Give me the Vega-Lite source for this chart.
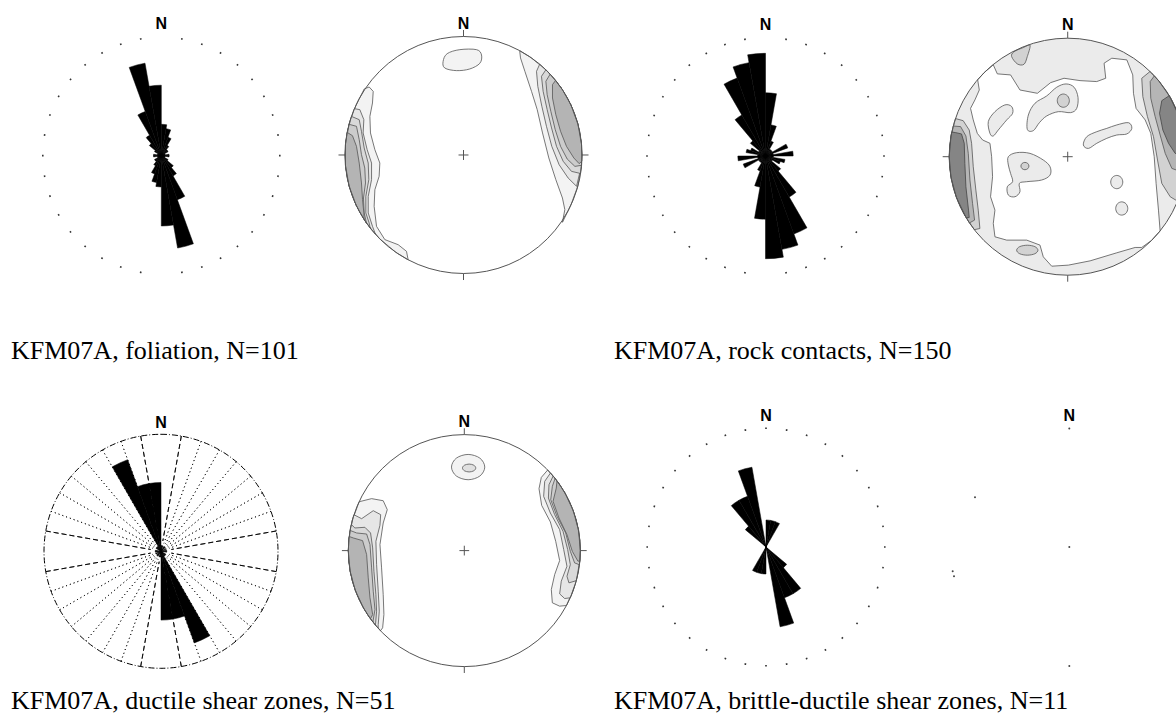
{
"$schema":"https://vega.github.io/schema/vega-lite/v6.json",
"background":"white",
"padding":{"left":10,"top":10,"right":0,"bottom":0},
"config":{"view":{"stroke":null},"concat":{"spacing":0}},
"datasets":{
"ring":[{"az":0},{"az":10},{"az":20},{"az":30},{"az":40},{"az":50},{"az":60},{"az":70},{"az":80},{"az":90},{"az":100},{"az":110},{"az":120},{"az":130},{"az":140},{"az":150},{"az":160},{"az":170},{"az":180},{"az":190},{"az":200},{"az":210},{"az":220},{"az":230},{"az":240},{"az":250},{"az":260},{"az":270},{"az":280},{"az":290},{"az":300},{"az":310},{"az":320},{"az":330},{"az":340},{"az":350}],
"one":[{"label":"N"}],
"rose1":[{"az":0,"az2":10,"n":8},{"az":10,"az2":20,"n":7},{"az":20,"az2":30,"n":5},{"az":30,"az2":40,"n":3},{"az":40,"az2":50,"n":2},{"az":50,"az2":60,"n":2},{"az":60,"az2":70,"n":1},{"az":70,"az2":80,"n":1},{"az":80,"az2":90,"n":2},{"az":90,"az2":100,"n":2},{"az":100,"az2":110,"n":1},{"az":110,"az2":120,"n":1},{"az":120,"az2":130,"n":2},{"az":130,"az2":140,"n":4},{"az":140,"az2":150,"n":6},{"az":150,"az2":160,"n":12},{"az":160,"az2":170,"n":24},{"az":170,"az2":180,"n":18}],
"rose2":[{"az":0,"az2":10,"n":16},{"az":10,"az2":20,"n":8},{"az":20,"az2":30,"n":4},{"az":30,"az2":40,"n":2},{"az":40,"az2":50,"n":2},{"az":50,"az2":60,"n":2},{"az":60,"az2":70,"n":6},{"az":70,"az2":80,"n":2},{"az":80,"az2":90,"n":7},{"az":90,"az2":100,"n":2},{"az":100,"az2":110,"n":5},{"az":110,"az2":120,"n":4},{"az":120,"az2":130,"n":2},{"az":130,"az2":140,"n":5},{"az":140,"az2":150,"n":12},{"az":150,"az2":160,"n":21},{"az":160,"az2":170,"n":24},{"az":170,"az2":180,"n":26}],
"rose3":[{"az":0,"az2":10,"n":1},{"az":10,"az2":20,"n":1},{"az":20,"az2":30,"n":0},{"az":30,"az2":40,"n":1},{"az":40,"az2":50,"n":1},{"az":50,"az2":60,"n":0},{"az":60,"az2":70,"n":1},{"az":70,"az2":80,"n":0},{"az":80,"az2":90,"n":1},{"az":90,"az2":100,"n":1},{"az":100,"az2":110,"n":0},{"az":110,"az2":120,"n":0},{"az":120,"az2":130,"n":1},{"az":130,"az2":140,"n":1},{"az":140,"az2":150,"n":1},{"az":150,"az2":160,"n":17},{"az":160,"az2":170,"n":12},{"az":170,"az2":180,"n":12}],
"rose4":[{"az":0,"az2":10,"n":1},{"az":10,"az2":20,"n":1},{"az":20,"az2":30,"n":1},{"az":30,"az2":40,"n":0},{"az":40,"az2":50,"n":0},{"az":50,"az2":60,"n":0},{"az":60,"az2":70,"n":0},{"az":70,"az2":80,"n":0},{"az":80,"az2":90,"n":0},{"az":90,"az2":100,"n":0},{"az":100,"az2":110,"n":0},{"az":110,"az2":120,"n":0},{"az":120,"az2":130,"n":0},{"az":130,"az2":140,"n":1},{"az":140,"az2":150,"n":2},{"az":150,"az2":160,"n":2},{"az":160,"az2":170,"n":3},{"az":170,"az2":180,"n":0}],
"ticks":[{"x":-0.042,"y":0,"x2":0.042,"y2":0},{"x":0,"y":-0.042,"x2":0,"y2":0.042},{"x":0,"y":1,"x2":0,"y2":1.055},{"x":0,"y":-1,"x2":0,"y2":-1.055},{"x":1,"y":0,"x2":1.055,"y2":0},{"x":-1,"y":0,"x2":-1.055,"y2":0}],
"s4":[{"x":-0.796,"y":0.419},{"x":-0.984,"y":-0.205},{"x":-0.973,"y":-0.247}],
"s4net":[{"x":0,"y":1.0},{"x":0,"y":0},{"x":0,"y":-1.005}],
"s1":[
{"id":"n1","k":"b","l":1,"x":-0.172,"y":0.790},{"id":"n1","k":"b","l":1,"x":-0.138,"y":0.855},{"id":"n1","k":"b","l":1,"x":-0.031,"y":0.889},{"id":"n1","k":"b","l":1,"x":0.110,"y":0.889},{"id":"n1","k":"b","l":1,"x":0.152,"y":0.844},{"id":"n1","k":"b","l":1,"x":0.138,"y":0.774},{"id":"n1","k":"b","l":1,"x":0.053,"y":0.726},{"id":"n1","k":"b","l":1,"x":-0.059,"y":0.712},{"id":"n1","k":"b","l":1,"x":-0.158,"y":0.734},
{"id":"w1","k":"e","l":1,"x":-0.838,"y":0.557},{"id":"w1","k":"e","l":1,"x":-0.796,"y":0.574},{"id":"w1","k":"e","l":1,"x":-0.762,"y":0.537},{"id":"w1","k":"e","l":1,"x":-0.768,"y":0.439},{"id":"w1","k":"e","l":1,"x":-0.790,"y":0.326},{"id":"w1","k":"e","l":1,"x":-0.785,"y":0.186},{"id":"w1","k":"e","l":1,"x":-0.748,"y":0.045},{"id":"w1","k":"e","l":1,"x":-0.706,"y":-0.068},{"id":"w1","k":"e","l":1,"x":-0.712,"y":-0.180},{"id":"w1","k":"e","l":1,"x":-0.748,"y":-0.293},{"id":"w1","k":"e","l":1,"x":-0.754,"y":-0.433},{"id":"w1","k":"e","l":1,"x":-0.734,"y":-0.602},{"id":"w1","k":"e","l":1,"x":-0.664,"y":-0.714},{"id":"w1","k":"e","l":1,"x":-0.551,"y":-0.757},{"id":"w1","k":"e","l":1,"x":-0.481,"y":-0.813},{"id":"w1","k":"e","l":1,"x":-0.467,"y":-0.885},{"id":"w1","k":"e","l":1,"x":-0.574,"y":-0.819},{"id":"w1","k":"e","l":1,"x":-0.707,"y":-0.707},{"id":"w1","k":"e","l":1,"x":-0.819,"y":-0.574},{"id":"w1","k":"e","l":1,"x":-0.906,"y":-0.423},{"id":"w1","k":"e","l":1,"x":-0.966,"y":-0.259},{"id":"w1","k":"e","l":1,"x":-0.996,"y":-0.087},{"id":"w1","k":"e","l":1,"x":-0.996,"y":0.087},{"id":"w1","k":"e","l":1,"x":-0.966,"y":0.259},{"id":"w1","k":"e","l":1,"x":-0.906,"y":0.423},
{"id":"w2","k":"e","l":2,"x":-0.921,"y":0.391},{"id":"w2","k":"e","l":2,"x":-0.875,"y":0.383},{"id":"w2","k":"e","l":2,"x":-0.841,"y":0.298},{"id":"w2","k":"e","l":2,"x":-0.847,"y":0.186},{"id":"w2","k":"e","l":2,"x":-0.813,"y":0.045},{"id":"w2","k":"e","l":2,"x":-0.776,"y":-0.068},{"id":"w2","k":"e","l":2,"x":-0.776,"y":-0.208},{"id":"w2","k":"e","l":2,"x":-0.804,"y":-0.349},{"id":"w2","k":"e","l":2,"x":-0.804,"y":-0.489},{"id":"w2","k":"e","l":2,"x":-0.768,"y":-0.602},{"id":"w2","k":"e","l":2,"x":-0.743,"y":-0.669},{"id":"w2","k":"e","l":2,"x":-0.819,"y":-0.574},{"id":"w2","k":"e","l":2,"x":-0.906,"y":-0.423},{"id":"w2","k":"e","l":2,"x":-0.966,"y":-0.259},{"id":"w2","k":"e","l":2,"x":-0.996,"y":-0.087},{"id":"w2","k":"e","l":2,"x":-0.996,"y":0.087},{"id":"w2","k":"e","l":2,"x":-0.966,"y":0.259},
{"id":"w3","k":"e","l":3,"x":-0.946,"y":0.326},{"id":"w3","k":"e","l":3,"x":-0.880,"y":0.298},{"id":"w3","k":"e","l":3,"x":-0.861,"y":0.200},{"id":"w3","k":"e","l":3,"x":-0.838,"y":0.059},{"id":"w3","k":"e","l":3,"x":-0.804,"y":-0.068},{"id":"w3","k":"e","l":3,"x":-0.799,"y":-0.208},{"id":"w3","k":"e","l":3,"x":-0.824,"y":-0.349},{"id":"w3","k":"e","l":3,"x":-0.824,"y":-0.489},{"id":"w3","k":"e","l":3,"x":-0.796,"y":-0.574},{"id":"w3","k":"e","l":3,"x":-0.788,"y":-0.616},{"id":"w3","k":"e","l":3,"x":-0.866,"y":-0.500},{"id":"w3","k":"e","l":3,"x":-0.940,"y":-0.342},{"id":"w3","k":"e","l":3,"x":-0.985,"y":-0.174},{"id":"w3","k":"e","l":3,"x":-1,"y":0},{"id":"w3","k":"e","l":3,"x":-0.985,"y":0.174},
{"id":"w4","k":"e","l":4,"x":-0.966,"y":0.259},{"id":"w4","k":"e","l":4,"x":-0.903,"y":0.242},{"id":"w4","k":"e","l":4,"x":-0.880,"y":0.129},{"id":"w4","k":"e","l":4,"x":-0.861,"y":0.003},{"id":"w4","k":"e","l":4,"x":-0.833,"y":-0.110},{"id":"w4","k":"e","l":4,"x":-0.827,"y":-0.236},{"id":"w4","k":"e","l":4,"x":-0.844,"y":-0.363},{"id":"w4","k":"e","l":4,"x":-0.838,"y":-0.489},{"id":"w4","k":"e","l":4,"x":-0.819,"y":-0.574},{"id":"w4","k":"e","l":4,"x":-0.906,"y":-0.423},{"id":"w4","k":"e","l":4,"x":-0.966,"y":-0.259},{"id":"w4","k":"e","l":4,"x":-0.996,"y":-0.087},{"id":"w4","k":"e","l":4,"x":-0.996,"y":0.087},
{"id":"w5","k":"e","l":5,"x":-0.982,"y":0.191},{"id":"w5","k":"e","l":5,"x":-0.937,"y":0.163},{"id":"w5","k":"e","l":5,"x":-0.903,"y":0.073},{"id":"w5","k":"e","l":5,"x":-0.880,"y":-0.068},{"id":"w5","k":"e","l":5,"x":-0.861,"y":-0.236},{"id":"w5","k":"e","l":5,"x":-0.852,"y":-0.377},{"id":"w5","k":"e","l":5,"x":-0.841,"y":-0.489},{"id":"w5","k":"e","l":5,"x":-0.839,"y":-0.545},{"id":"w5","k":"e","l":5,"x":-0.906,"y":-0.423},{"id":"w5","k":"e","l":5,"x":-0.966,"y":-0.259},{"id":"w5","k":"e","l":5,"x":-0.996,"y":-0.087},{"id":"w5","k":"e","l":5,"x":-0.996,"y":0.087},
{"id":"e1","k":"e","l":1,"x":0.474,"y":0.880},{"id":"e1","k":"e","l":1,"x":0.481,"y":0.819},{"id":"e1","k":"e","l":1,"x":0.518,"y":0.706},{"id":"e1","k":"e","l":1,"x":0.574,"y":0.537},{"id":"e1","k":"e","l":1,"x":0.622,"y":0.383},{"id":"e1","k":"e","l":1,"x":0.667,"y":0.186},{"id":"e1","k":"e","l":1,"x":0.720,"y":-0.025},{"id":"e1","k":"e","l":1,"x":0.779,"y":-0.208},{"id":"e1","k":"e","l":1,"x":0.835,"y":-0.363},{"id":"e1","k":"e","l":1,"x":0.855,"y":-0.461},{"id":"e1","k":"e","l":1,"x":0.835,"y":-0.568},{"id":"e1","k":"e","l":1,"x":0.906,"y":-0.423},{"id":"e1","k":"e","l":1,"x":0.966,"y":-0.259},{"id":"e1","k":"e","l":1,"x":0.996,"y":-0.087},{"id":"e1","k":"e","l":1,"x":0.996,"y":0.087},{"id":"e1","k":"e","l":1,"x":0.966,"y":0.259},{"id":"e1","k":"e","l":1,"x":0.906,"y":0.423},{"id":"e1","k":"e","l":1,"x":0.819,"y":0.574},{"id":"e1","k":"e","l":1,"x":0.707,"y":0.707},{"id":"e1","k":"e","l":1,"x":0.574,"y":0.819},
{"id":"e2","k":"e","l":2,"x":0.643,"y":0.766},{"id":"e2","k":"e","l":2,"x":0.616,"y":0.706},{"id":"e2","k":"e","l":2,"x":0.627,"y":0.579},{"id":"e2","k":"e","l":2,"x":0.661,"y":0.411},{"id":"e2","k":"e","l":2,"x":0.700,"y":0.242},{"id":"e2","k":"e","l":2,"x":0.745,"y":0.073},{"id":"e2","k":"e","l":2,"x":0.807,"y":-0.082},{"id":"e2","k":"e","l":2,"x":0.883,"y":-0.194},{"id":"e2","k":"e","l":2,"x":0.954,"y":-0.264},{"id":"e2","k":"e","l":2,"x":0.996,"y":-0.087},{"id":"e2","k":"e","l":2,"x":0.996,"y":0.087},{"id":"e2","k":"e","l":2,"x":0.966,"y":0.259},{"id":"e2","k":"e","l":2,"x":0.906,"y":0.423},{"id":"e2","k":"e","l":2,"x":0.819,"y":0.574},{"id":"e2","k":"e","l":2,"x":0.707,"y":0.707},
{"id":"e3","k":"e","l":3,"x":0.695,"y":0.719},{"id":"e3","k":"e","l":3,"x":0.658,"y":0.664},{"id":"e3","k":"e","l":3,"x":0.672,"y":0.537},{"id":"e3","k":"e","l":3,"x":0.706,"y":0.383},{"id":"e3","k":"e","l":3,"x":0.743,"y":0.228},{"id":"e3","k":"e","l":3,"x":0.785,"y":0.073},{"id":"e3","k":"e","l":3,"x":0.841,"y":-0.053},{"id":"e3","k":"e","l":3,"x":0.911,"y":-0.138},{"id":"e3","k":"e","l":3,"x":0.988,"y":-0.156},{"id":"e3","k":"e","l":3,"x":1,"y":0},{"id":"e3","k":"e","l":3,"x":0.985,"y":0.174},{"id":"e3","k":"e","l":3,"x":0.940,"y":0.342},{"id":"e3","k":"e","l":3,"x":0.866,"y":0.500},{"id":"e3","k":"e","l":3,"x":0.766,"y":0.643},
{"id":"e4","k":"e","l":4,"x":0.731,"y":0.682},{"id":"e4","k":"e","l":4,"x":0.695,"y":0.622},{"id":"e4","k":"e","l":4,"x":0.706,"y":0.509},{"id":"e4","k":"e","l":4,"x":0.737,"y":0.368},{"id":"e4","k":"e","l":4,"x":0.774,"y":0.214},{"id":"e4","k":"e","l":4,"x":0.819,"y":0.073},{"id":"e4","k":"e","l":4,"x":0.875,"y":-0.034},{"id":"e4","k":"e","l":4,"x":0.940,"y":-0.096},{"id":"e4","k":"e","l":4,"x":0.996,"y":-0.087},{"id":"e4","k":"e","l":4,"x":0.996,"y":0.087},{"id":"e4","k":"e","l":4,"x":0.966,"y":0.259},{"id":"e4","k":"e","l":4,"x":0.906,"y":0.423},{"id":"e4","k":"e","l":4,"x":0.819,"y":0.574},
{"id":"e5","k":"e","l":5,"x":0.777,"y":0.629},{"id":"e5","k":"e","l":5,"x":0.751,"y":0.594},{"id":"e5","k":"e","l":5,"x":0.751,"y":0.481},{"id":"e5","k":"e","l":5,"x":0.779,"y":0.340},{"id":"e5","k":"e","l":5,"x":0.819,"y":0.200},{"id":"e5","k":"e","l":5,"x":0.869,"y":0.073},{"id":"e5","k":"e","l":5,"x":0.931,"y":-0.025},{"id":"e5","k":"e","l":5,"x":0.976,"y":-0.073},{"id":"e5","k":"e","l":5,"x":0.999,"y":-0.052},{"id":"e5","k":"e","l":5,"x":0.996,"y":0.087},{"id":"e5","k":"e","l":5,"x":0.966,"y":0.259},{"id":"e5","k":"e","l":5,"x":0.906,"y":0.423},{"id":"e5","k":"e","l":5,"x":0.839,"y":0.545}
],
"s3":[
{"id":"n1","k":"b","l":1,"x":0.1765,"y":0.720},{"id":"n1","k":"b","l":1,"x":0.1345,"y":0.797},{"id":"n1","k":"b","l":1,"x":0.033,"y":0.829},{"id":"n1","k":"b","l":1,"x":-0.0685,"y":0.797},{"id":"n1","k":"b","l":1,"x":-0.1105,"y":0.720},{"id":"n1","k":"b","l":1,"x":-0.0685,"y":0.643},{"id":"n1","k":"b","l":1,"x":0.033,"y":0.611},{"id":"n1","k":"b","l":1,"x":0.1345,"y":0.643},
{"id":"n2","k":"b","l":2,"x":0.099,"y":0.712},{"id":"n2","k":"b","l":2,"x":0.0822,"y":0.736},{"id":"n2","k":"b","l":2,"x":0.0416,"y":0.746},{"id":"n2","k":"b","l":2,"x":0.001,"y":0.736},{"id":"n2","k":"b","l":2,"x":-0.0158,"y":0.712},{"id":"n2","k":"b","l":2,"x":0.001,"y":0.688},{"id":"n2","k":"b","l":2,"x":0.0416,"y":0.678},{"id":"n2","k":"b","l":2,"x":0.0822,"y":0.688},
{"id":"w1","k":"e","l":1,"x":-0.907,"y":0.421},{"id":"w1","k":"e","l":1,"x":-0.799,"y":0.448},{"id":"w1","k":"e","l":1,"x":-0.699,"y":0.430},{"id":"w1","k":"e","l":1,"x":-0.664,"y":0.353},{"id":"w1","k":"e","l":1,"x":-0.699,"y":0.238},{"id":"w1","k":"e","l":1,"x":-0.727,"y":0.052},{"id":"w1","k":"e","l":1,"x":-0.713,"y":-0.149},{"id":"w1","k":"e","l":1,"x":-0.699,"y":-0.379},{"id":"w1","k":"e","l":1,"x":-0.693,"y":-0.551},{"id":"w1","k":"e","l":1,"x":-0.704,"y":-0.666},{"id":"w1","k":"e","l":1,"x":-0.723,"y":-0.691},{"id":"w1","k":"e","l":1,"x":-0.819,"y":-0.574},{"id":"w1","k":"e","l":1,"x":-0.906,"y":-0.423},{"id":"w1","k":"e","l":1,"x":-0.966,"y":-0.259},{"id":"w1","k":"e","l":1,"x":-0.996,"y":-0.087},{"id":"w1","k":"e","l":1,"x":-0.996,"y":0.087},{"id":"w1","k":"e","l":1,"x":-0.966,"y":0.259},
{"id":"w2","k":"e","l":2,"x":-0.951,"y":0.309},{"id":"w2","k":"e","l":2,"x":-0.885,"y":0.275},{"id":"w2","k":"e","l":2,"x":-0.785,"y":0.344},{"id":"w2","k":"e","l":2,"x":-0.721,"y":0.310},{"id":"w2","k":"e","l":2,"x":-0.727,"y":0.218},{"id":"w2","k":"e","l":2,"x":-0.762,"y":0.080},{"id":"w2","k":"e","l":2,"x":-0.756,"y":-0.121},{"id":"w2","k":"e","l":2,"x":-0.742,"y":-0.350},{"id":"w2","k":"e","l":2,"x":-0.733,"y":-0.522},{"id":"w2","k":"e","l":2,"x":-0.742,"y":-0.637},{"id":"w2","k":"e","l":2,"x":-0.743,"y":-0.669},{"id":"w2","k":"e","l":2,"x":-0.819,"y":-0.574},{"id":"w2","k":"e","l":2,"x":-0.906,"y":-0.423},{"id":"w2","k":"e","l":2,"x":-0.966,"y":-0.259},{"id":"w2","k":"e","l":2,"x":-0.996,"y":-0.087},{"id":"w2","k":"e","l":2,"x":-0.996,"y":0.087},{"id":"w2","k":"e","l":2,"x":-0.966,"y":0.259},
{"id":"w3","k":"e","l":3,"x":-0.974,"y":0.225},{"id":"w3","k":"e","l":3,"x":-0.943,"y":0.195},{"id":"w3","k":"e","l":3,"x":-0.857,"y":0.201},{"id":"w3","k":"e","l":3,"x":-0.808,"y":0.152},{"id":"w3","k":"e","l":3,"x":-0.790,"y":0.023},{"id":"w3","k":"e","l":3,"x":-0.779,"y":-0.178},{"id":"w3","k":"e","l":3,"x":-0.762,"y":-0.379},{"id":"w3","k":"e","l":3,"x":-0.756,"y":-0.522},{"id":"w3","k":"e","l":3,"x":-0.766,"y":-0.643},{"id":"w3","k":"e","l":3,"x":-0.866,"y":-0.500},{"id":"w3","k":"e","l":3,"x":-0.940,"y":-0.342},{"id":"w3","k":"e","l":3,"x":-0.985,"y":-0.174},{"id":"w3","k":"e","l":3,"x":-1,"y":0},{"id":"w3","k":"e","l":3,"x":-0.985,"y":0.174},
{"id":"w4","k":"e","l":4,"x":-0.985,"y":0.174},{"id":"w4","k":"e","l":4,"x":-0.928,"y":0.152},{"id":"w4","k":"e","l":4,"x":-0.842,"y":0.143},{"id":"w4","k":"e","l":4,"x":-0.813,"y":0.052},{"id":"w4","k":"e","l":4,"x":-0.799,"y":-0.149},{"id":"w4","k":"e","l":4,"x":-0.785,"y":-0.350},{"id":"w4","k":"e","l":4,"x":-0.770,"y":-0.508},{"id":"w4","k":"e","l":4,"x":-0.788,"y":-0.616},{"id":"w4","k":"e","l":4,"x":-0.866,"y":-0.500},{"id":"w4","k":"e","l":4,"x":-0.940,"y":-0.342},{"id":"w4","k":"e","l":4,"x":-0.985,"y":-0.174},{"id":"w4","k":"e","l":4,"x":-1,"y":0},
{"id":"w5","k":"e","l":5,"x":-0.993,"y":0.122},{"id":"w5","k":"e","l":5,"x":-0.957,"y":0.109},{"id":"w5","k":"e","l":5,"x":-0.877,"y":0.086},{"id":"w5","k":"e","l":5,"x":-0.842,"y":-0.034},{"id":"w5","k":"e","l":5,"x":-0.828,"y":-0.235},{"id":"w5","k":"e","l":5,"x":-0.813,"y":-0.407},{"id":"w5","k":"e","l":5,"x":-0.790,"y":-0.551},{"id":"w5","k":"e","l":5,"x":-0.809,"y":-0.588},{"id":"w5","k":"e","l":5,"x":-0.866,"y":-0.500},{"id":"w5","k":"e","l":5,"x":-0.940,"y":-0.342},{"id":"w5","k":"e","l":5,"x":-0.985,"y":-0.174},{"id":"w5","k":"e","l":5,"x":-1,"y":0},
{"id":"e1","k":"e","l":1,"x":0.719,"y":0.695},{"id":"e1","k":"e","l":1,"x":0.664,"y":0.631},{"id":"e1","k":"e","l":1,"x":0.644,"y":0.534},{"id":"e1","k":"e","l":1,"x":0.667,"y":0.390},{"id":"e1","k":"e","l":1,"x":0.742,"y":0.247},{"id":"e1","k":"e","l":1,"x":0.788,"y":0.080},{"id":"e1","k":"e","l":1,"x":0.822,"y":-0.086},{"id":"e1","k":"e","l":1,"x":0.779,"y":-0.207},{"id":"e1","k":"e","l":1,"x":0.750,"y":-0.336},{"id":"e1","k":"e","l":1,"x":0.759,"y":-0.450},{"id":"e1","k":"e","l":1,"x":0.822,"y":-0.479},{"id":"e1","k":"e","l":1,"x":0.881,"y":-0.473},{"id":"e1","k":"e","l":1,"x":0.940,"y":-0.342},{"id":"e1","k":"e","l":1,"x":0.985,"y":-0.174},{"id":"e1","k":"e","l":1,"x":1,"y":0},{"id":"e1","k":"e","l":1,"x":0.985,"y":0.174},{"id":"e1","k":"e","l":1,"x":0.940,"y":0.342},{"id":"e1","k":"e","l":1,"x":0.866,"y":0.500},{"id":"e1","k":"e","l":1,"x":0.766,"y":0.643},
{"id":"e2","k":"e","l":2,"x":0.743,"y":0.669},{"id":"e2","k":"e","l":2,"x":0.693,"y":0.597},{"id":"e2","k":"e","l":2,"x":0.684,"y":0.468},{"id":"e2","k":"e","l":2,"x":0.742,"y":0.324},{"id":"e2","k":"e","l":2,"x":0.822,"y":0.181},{"id":"e2","k":"e","l":2,"x":0.857,"y":0.009},{"id":"e2","k":"e","l":2,"x":0.885,"y":-0.135},{"id":"e2","k":"e","l":2,"x":0.836,"y":-0.264},{"id":"e2","k":"e","l":2,"x":0.822,"y":-0.373},{"id":"e2","k":"e","l":2,"x":0.865,"y":-0.413},{"id":"e2","k":"e","l":2,"x":0.914,"y":-0.407},{"id":"e2","k":"e","l":2,"x":0.966,"y":-0.259},{"id":"e2","k":"e","l":2,"x":0.996,"y":-0.087},{"id":"e2","k":"e","l":2,"x":0.996,"y":0.087},{"id":"e2","k":"e","l":2,"x":0.966,"y":0.259},{"id":"e2","k":"e","l":2,"x":0.906,"y":0.423},{"id":"e2","k":"e","l":2,"x":0.819,"y":0.574},
{"id":"e3","k":"e","l":3,"x":0.766,"y":0.643},{"id":"e3","k":"e","l":3,"x":0.730,"y":0.568},{"id":"e3","k":"e","l":3,"x":0.725,"y":0.453},{"id":"e3","k":"e","l":3,"x":0.779,"y":0.310},{"id":"e3","k":"e","l":3,"x":0.851,"y":0.166},{"id":"e3","k":"e","l":3,"x":0.891,"y":0.009},{"id":"e3","k":"e","l":3,"x":0.914,"y":-0.121},{"id":"e3","k":"e","l":3,"x":0.885,"y":-0.221},{"id":"e3","k":"e","l":3,"x":0.902,"y":-0.278},{"id":"e3","k":"e","l":3,"x":0.966,"y":-0.259},{"id":"e3","k":"e","l":3,"x":0.996,"y":-0.087},{"id":"e3","k":"e","l":3,"x":0.996,"y":0.087},{"id":"e3","k":"e","l":3,"x":0.966,"y":0.259},{"id":"e3","k":"e","l":3,"x":0.906,"y":0.423},{"id":"e3","k":"e","l":3,"x":0.819,"y":0.574},
{"id":"e4","k":"e","l":4,"x":0.783,"y":0.623},{"id":"e4","k":"e","l":4,"x":0.759,"y":0.554},{"id":"e4","k":"e","l":4,"x":0.745,"y":0.439},{"id":"e4","k":"e","l":4,"x":0.799,"y":0.296},{"id":"e4","k":"e","l":4,"x":0.874,"y":0.152},{"id":"e4","k":"e","l":4,"x":0.914,"y":-0.006},{"id":"e4","k":"e","l":4,"x":0.951,"y":-0.106},{"id":"e4","k":"e","l":4,"x":0.993,"y":-0.122},{"id":"e4","k":"e","l":4,"x":1,"y":0},{"id":"e4","k":"e","l":4,"x":0.985,"y":0.174},{"id":"e4","k":"e","l":4,"x":0.940,"y":0.342},{"id":"e4","k":"e","l":4,"x":0.866,"y":0.500},
{"id":"e5","k":"e","l":5,"x":0.799,"y":0.602},{"id":"e5","k":"e","l":5,"x":0.793,"y":0.539},{"id":"e5","k":"e","l":5,"x":0.765,"y":0.425},{"id":"e5","k":"e","l":5,"x":0.816,"y":0.281},{"id":"e5","k":"e","l":5,"x":0.885,"y":0.138},{"id":"e5","k":"e","l":5,"x":0.931,"y":-0.006},{"id":"e5","k":"e","l":5,"x":0.980,"y":-0.092},{"id":"e5","k":"e","l":5,"x":0.996,"y":-0.087},{"id":"e5","k":"e","l":5,"x":1,"y":0},{"id":"e5","k":"e","l":5,"x":0.985,"y":0.174},{"id":"e5","k":"e","l":5,"x":0.940,"y":0.342},{"id":"e5","k":"e","l":5,"x":0.866,"y":0.500}
],
"s2":[
{"id":"m0","k":"e","l":0,"x":-0.760,"y":0.650},{"id":"m0","k":"e","l":0,"x":-0.695,"y":0.719},{"id":"m0","k":"e","l":0,"x":-0.628,"y":0.775},{"id":"m0","k":"e","l":0,"x":-0.594,"y":0.699},{"id":"m0","k":"e","l":0,"x":-0.482,"y":0.690},{"id":"m0","k":"e","l":0,"x":-0.403,"y":0.563},{"id":"m0","k":"e","l":0,"x":-0.256,"y":0.535},{"id":"m0","k":"e","l":0,"x":-0.144,"y":0.625},{"id":"m0","k":"e","l":0,"x":-0.031,"y":0.662},{"id":"m0","k":"e","l":0,"x":0.104,"y":0.642},{"id":"m0","k":"e","l":0,"x":0.245,"y":0.634},{"id":"m0","k":"e","l":0,"x":0.321,"y":0.662},{"id":"m0","k":"e","l":0,"x":0.307,"y":0.789},{"id":"m0","k":"e","l":0,"x":0.372,"y":0.831},{"id":"m0","k":"e","l":0,"x":0.499,"y":0.817},{"id":"m0","k":"e","l":0,"x":0.549,"y":0.690},{"id":"m0","k":"e","l":0,"x":0.555,"y":0.535},{"id":"m0","k":"e","l":0,"x":0.577,"y":0.408},{"id":"m0","k":"e","l":0,"x":0.654,"y":0.310},{"id":"m0","k":"e","l":0,"x":0.701,"y":0.197},{"id":"m0","k":"e","l":0,"x":0.730,"y":0},{"id":"m0","k":"e","l":0,"x":0.746,"y":-0.225},{"id":"m0","k":"e","l":0,"x":0.766,"y":-0.451},{"id":"m0","k":"e","l":0,"x":0.780,"y":-0.626},{"id":"m0","k":"e","l":0,"x":0.707,"y":-0.707},{"id":"m0","k":"e","l":0,"x":0.625,"y":-0.766},{"id":"m0","k":"e","l":0,"x":0.569,"y":-0.766},{"id":"m0","k":"e","l":0,"x":0.414,"y":-0.811},{"id":"m0","k":"e","l":0,"x":0.189,"y":-0.879},{"id":"m0","k":"e","l":0,"x":0.006,"y":-0.915},{"id":"m0","k":"e","l":0,"x":-0.135,"y":-0.924},{"id":"m0","k":"e","l":0,"x":-0.206,"y":-0.845},{"id":"m0","k":"e","l":0,"x":-0.234,"y":-0.746},{"id":"m0","k":"e","l":0,"x":-0.346,"y":-0.704},{"id":"m0","k":"e","l":0,"x":-0.515,"y":-0.704},{"id":"m0","k":"e","l":0,"x":-0.614,"y":-0.676},{"id":"m0","k":"e","l":0,"x":-0.628,"y":-0.563},{"id":"m0","k":"e","l":0,"x":-0.614,"y":-0.451},{"id":"m0","k":"e","l":0,"x":-0.651,"y":-0.338},{"id":"m0","k":"e","l":0,"x":-0.634,"y":-0.169},{"id":"m0","k":"e","l":0,"x":-0.642,"y":0},{"id":"m0","k":"e","l":0,"x":-0.656,"y":0.113},{"id":"m0","k":"e","l":0,"x":-0.718,"y":0.141},{"id":"m0","k":"e","l":0,"x":-0.763,"y":0.197},{"id":"m0","k":"e","l":0,"x":-0.797,"y":0.310},{"id":"m0","k":"e","l":0,"x":-0.820,"y":0.408},{"id":"m0","k":"e","l":0,"x":-0.783,"y":0.479},{"id":"m0","k":"e","l":0,"x":-0.746,"y":0.563},
{"id":"i1","k":"b","l":1,"x":-0.656,"y":0.197},{"id":"i1","k":"b","l":1,"x":-0.670,"y":0.296},{"id":"i1","k":"b","l":1,"x":-0.614,"y":0.380},{"id":"i1","k":"b","l":1,"x":-0.530,"y":0.437},{"id":"i1","k":"b","l":1,"x":-0.473,"y":0.423},{"id":"i1","k":"b","l":1,"x":-0.465,"y":0.366},{"id":"i1","k":"b","l":1,"x":-0.515,"y":0.310},{"id":"i1","k":"b","l":1,"x":-0.586,"y":0.225},{"id":"i1","k":"b","l":1,"x":-0.628,"y":0.175},
{"id":"i2","k":"b","l":1,"x":-0.341,"y":0.231},{"id":"i2","k":"b","l":1,"x":-0.332,"y":0.352},{"id":"i2","k":"b","l":1,"x":-0.276,"y":0.451},{"id":"i2","k":"b","l":1,"x":-0.177,"y":0.513},{"id":"i2","k":"b","l":1,"x":-0.093,"y":0.586},{"id":"i2","k":"b","l":1,"x":-0.014,"y":0.614},{"id":"i2","k":"b","l":1,"x":0.054,"y":0.586},{"id":"i2","k":"b","l":1,"x":0.087,"y":0.501},{"id":"i2","k":"b","l":1,"x":0.076,"y":0.408},{"id":"i2","k":"b","l":1,"x":0.025,"y":0.372},{"id":"i2","k":"b","l":1,"x":-0.079,"y":0.380},{"id":"i2","k":"b","l":1,"x":-0.177,"y":0.344},{"id":"i2","k":"b","l":1,"x":-0.239,"y":0.287},{"id":"i2","k":"b","l":1,"x":-0.290,"y":0.220},
{"id":"i3","k":"b","l":1,"x":0.132,"y":0.099},{"id":"i3","k":"b","l":1,"x":0.161,"y":0.169},{"id":"i3","k":"b","l":1,"x":0.245,"y":0.211},{"id":"i3","k":"b","l":1,"x":0.330,"y":0.239},{"id":"i3","k":"b","l":1,"x":0.414,"y":0.268},{"id":"i3","k":"b","l":1,"x":0.513,"y":0.287},{"id":"i3","k":"b","l":1,"x":0.541,"y":0.239},{"id":"i3","k":"b","l":1,"x":0.499,"y":0.192},{"id":"i3","k":"b","l":1,"x":0.414,"y":0.183},{"id":"i3","k":"b","l":1,"x":0.330,"y":0.155},{"id":"i3","k":"b","l":1,"x":0.245,"y":0.113},{"id":"i3","k":"b","l":1,"x":0.175,"y":0.070},
{"id":"i4","k":"b","l":1,"x":-0.501,"y":0},{"id":"i4","k":"b","l":1,"x":-0.431,"y":0.034},{"id":"i4","k":"b","l":1,"x":-0.318,"y":0.028},{"id":"i4","k":"b","l":1,"x":-0.206,"y":-0.028},{"id":"i4","k":"b","l":1,"x":-0.149,"y":-0.085},{"id":"i4","k":"b","l":1,"x":-0.149,"y":-0.155},{"id":"i4","k":"b","l":1,"x":-0.220,"y":-0.197},{"id":"i4","k":"b","l":1,"x":-0.346,"y":-0.211},{"id":"i4","k":"b","l":1,"x":-0.408,"y":-0.225},{"id":"i4","k":"b","l":1,"x":-0.403,"y":-0.296},{"id":"i4","k":"b","l":1,"x":-0.445,"y":-0.338},{"id":"i4","k":"b","l":1,"x":-0.501,"y":-0.324},{"id":"i4","k":"b","l":1,"x":-0.510,"y":-0.254},{"id":"i4","k":"b","l":1,"x":-0.465,"y":-0.211},{"id":"i4","k":"b","l":1,"x":-0.482,"y":-0.141},{"id":"i4","k":"b","l":1,"x":-0.501,"y":-0.070},
{"id":"i5","k":"b","l":1,"x":0.465,"y":-0.214},{"id":"i5","k":"b","l":1,"x":0.450,"y":-0.174},{"id":"i5","k":"b","l":1,"x":0.414,"y":-0.158},{"id":"i5","k":"b","l":1,"x":0.378,"y":-0.174},{"id":"i5","k":"b","l":1,"x":0.363,"y":-0.214},{"id":"i5","k":"b","l":1,"x":0.378,"y":-0.254},{"id":"i5","k":"b","l":1,"x":0.414,"y":-0.270},{"id":"i5","k":"b","l":1,"x":0.450,"y":-0.254},
{"id":"i6","k":"b","l":1,"x":0.507,"y":-0.437},{"id":"i6","k":"b","l":1,"x":0.492,"y":-0.397},{"id":"i6","k":"b","l":1,"x":0.456,"y":-0.381},{"id":"i6","k":"b","l":1,"x":0.420,"y":-0.397},{"id":"i6","k":"b","l":1,"x":0.405,"y":-0.437},{"id":"i6","k":"b","l":1,"x":0.420,"y":-0.477},{"id":"i6","k":"b","l":1,"x":0.456,"y":-0.493},{"id":"i6","k":"b","l":1,"x":0.492,"y":-0.477},
{"id":"d2","k":"b","l":2,"x":0.014,"y":0.473},{"id":"d2","k":"b","l":2,"x":-0.001,"y":0.513},{"id":"d2","k":"b","l":2,"x":-0.037,"y":0.529},{"id":"d2","k":"b","l":2,"x":-0.073,"y":0.513},{"id":"d2","k":"b","l":2,"x":-0.088,"y":0.473},{"id":"d2","k":"b","l":2,"x":-0.073,"y":0.433},{"id":"d2","k":"b","l":2,"x":-0.037,"y":0.417},{"id":"d2","k":"b","l":2,"x":-0.001,"y":0.433},
{"id":"d4","k":"b","l":2,"x":-0.327,"y":-0.079},{"id":"d4","k":"b","l":2,"x":-0.337,"y":-0.057},{"id":"d4","k":"b","l":2,"x":-0.361,"y":-0.048},{"id":"d4","k":"b","l":2,"x":-0.385,"y":-0.057},{"id":"d4","k":"b","l":2,"x":-0.395,"y":-0.079},{"id":"d4","k":"b","l":2,"x":-0.385,"y":-0.101},{"id":"d4","k":"b","l":2,"x":-0.361,"y":-0.110},{"id":"d4","k":"b","l":2,"x":-0.337,"y":-0.101},
{"id":"tb","k":"b","l":2,"x":-0.473,"y":0.845},{"id":"tb","k":"b","l":2,"x":-0.454,"y":0.885},{"id":"tb","k":"b","l":2,"x":-0.375,"y":0.921},{"id":"tb","k":"b","l":2,"x":-0.318,"y":0.940},{"id":"tb","k":"b","l":2,"x":-0.341,"y":0.845},{"id":"tb","k":"b","l":2,"x":-0.369,"y":0.780},{"id":"tb","k":"b","l":2,"x":-0.425,"y":0.783},
{"id":"bb","k":"b","l":2,"x":-0.251,"y":-0.789},{"id":"bb","k":"b","l":2,"x":-0.277,"y":-0.759},{"id":"bb","k":"b","l":2,"x":-0.341,"y":-0.747},{"id":"bb","k":"b","l":2,"x":-0.405,"y":-0.759},{"id":"bb","k":"b","l":2,"x":-0.431,"y":-0.789},{"id":"bb","k":"b","l":2,"x":-0.405,"y":-0.819},{"id":"bb","k":"b","l":2,"x":-0.341,"y":-0.831},{"id":"bb","k":"b","l":2,"x":-0.277,"y":-0.819},
{"id":"w2","k":"e","l":2,"x":-0.947,"y":0.322},{"id":"w2","k":"e","l":2,"x":-0.882,"y":0.304},{"id":"w2","k":"e","l":2,"x":-0.831,"y":0.225},{"id":"w2","k":"e","l":2,"x":-0.811,"y":0.113},{"id":"w2","k":"e","l":2,"x":-0.797,"y":-0.085},{"id":"w2","k":"e","l":2,"x":-0.775,"y":-0.282},{"id":"w2","k":"e","l":2,"x":-0.755,"y":-0.451},{"id":"w2","k":"e","l":2,"x":-0.741,"y":-0.606},{"id":"w2","k":"e","l":2,"x":-0.788,"y":-0.616},{"id":"w2","k":"e","l":2,"x":-0.866,"y":-0.500},{"id":"w2","k":"e","l":2,"x":-0.940,"y":-0.342},{"id":"w2","k":"e","l":2,"x":-0.985,"y":-0.174},{"id":"w2","k":"e","l":2,"x":-1,"y":0},{"id":"w2","k":"e","l":2,"x":-0.985,"y":0.174},
{"id":"w3","k":"e","l":3,"x":-0.966,"y":0.259},{"id":"w3","k":"e","l":3,"x":-0.904,"y":0.254},{"id":"w3","k":"e","l":3,"x":-0.859,"y":0.175},{"id":"w3","k":"e","l":3,"x":-0.839,"y":0.028},{"id":"w3","k":"e","l":3,"x":-0.825,"y":-0.197},{"id":"w3","k":"e","l":3,"x":-0.803,"y":-0.394},{"id":"w3","k":"e","l":3,"x":-0.786,"y":-0.535},{"id":"w3","k":"e","l":3,"x":-0.829,"y":-0.559},{"id":"w3","k":"e","l":3,"x":-0.906,"y":-0.423},{"id":"w3","k":"e","l":3,"x":-0.966,"y":-0.259},{"id":"w3","k":"e","l":3,"x":-0.996,"y":-0.087},{"id":"w3","k":"e","l":3,"x":-0.996,"y":0.087},
{"id":"w4","k":"e","l":4,"x":-0.978,"y":0.208},{"id":"w4","k":"e","l":4,"x":-0.944,"y":0.203},{"id":"w4","k":"e","l":4,"x":-0.896,"y":0.192},{"id":"w4","k":"e","l":4,"x":-0.873,"y":0.113},{"id":"w4","k":"e","l":4,"x":-0.868,"y":-0.056},{"id":"w4","k":"e","l":4,"x":-0.859,"y":-0.254},{"id":"w4","k":"e","l":4,"x":-0.837,"y":-0.451},{"id":"w4","k":"e","l":4,"x":-0.831,"y":-0.513},{"id":"w4","k":"e","l":4,"x":-0.857,"y":-0.515},{"id":"w4","k":"e","l":4,"x":-0.940,"y":-0.342},{"id":"w4","k":"e","l":4,"x":-0.985,"y":-0.174},{"id":"w4","k":"e","l":4,"x":-1,"y":0},{"id":"w4","k":"e","l":4,"x":-0.985,"y":0.174},
{"id":"e2","k":"e","l":2,"x":0.695,"y":0.719},{"id":"e2","k":"e","l":2,"x":0.625,"y":0.662},{"id":"e2","k":"e","l":2,"x":0.634,"y":0.507},{"id":"e2","k":"e","l":2,"x":0.673,"y":0.338},{"id":"e2","k":"e","l":2,"x":0.724,"y":0.169},{"id":"e2","k":"e","l":2,"x":0.758,"y":-0.028},{"id":"e2","k":"e","l":2,"x":0.794,"y":-0.225},{"id":"e2","k":"e","l":2,"x":0.865,"y":-0.338},{"id":"e2","k":"e","l":2,"x":0.927,"y":-0.375},{"id":"e2","k":"e","l":2,"x":0.985,"y":-0.174},{"id":"e2","k":"e","l":2,"x":1,"y":0},{"id":"e2","k":"e","l":2,"x":0.985,"y":0.174},{"id":"e2","k":"e","l":2,"x":0.940,"y":0.342},{"id":"e2","k":"e","l":2,"x":0.866,"y":0.500},{"id":"e2","k":"e","l":2,"x":0.766,"y":0.643},
{"id":"e3","k":"e","l":3,"x":0.731,"y":0.682},{"id":"e3","k":"e","l":3,"x":0.696,"y":0.634},{"id":"e3","k":"e","l":3,"x":0.701,"y":0.493},{"id":"e3","k":"e","l":3,"x":0.738,"y":0.338},{"id":"e3","k":"e","l":3,"x":0.780,"y":0.183},{"id":"e3","k":"e","l":3,"x":0.823,"y":0.028},{"id":"e3","k":"e","l":3,"x":0.879,"y":-0.099},{"id":"e3","k":"e","l":3,"x":0.990,"y":-0.139},{"id":"e3","k":"e","l":3,"x":1,"y":0},{"id":"e3","k":"e","l":3,"x":0.985,"y":0.174},{"id":"e3","k":"e","l":3,"x":0.940,"y":0.342},{"id":"e3","k":"e","l":3,"x":0.866,"y":0.500},{"id":"e3","k":"e","l":3,"x":0.766,"y":0.643},
{"id":"e4","k":"e","l":4,"x":0.857,"y":0.515},{"id":"e4","k":"e","l":4,"x":0.794,"y":0.473},{"id":"e4","k":"e","l":4,"x":0.775,"y":0.366},{"id":"e4","k":"e","l":4,"x":0.803,"y":0.225},{"id":"e4","k":"e","l":4,"x":0.851,"y":0.113},{"id":"e4","k":"e","l":4,"x":0.907,"y":0.028},{"id":"e4","k":"e","l":4,"x":1,"y":0},{"id":"e4","k":"e","l":4,"x":0.985,"y":0.174},{"id":"e4","k":"e","l":4,"x":0.940,"y":0.342}
]
},
"spacing":44,
"vconcat":[
{"spacing":0,"hconcat":[
 {"title":{"text":"KFM07A, foliation, N=101","orient":"bottom","anchor":"start","font":"Liberation Serif","fontSize":26,"fontWeight":"normal","color":"#000","offset":36,"dx":1},
  "spacing":0,
  "hconcat":[
   {"width":302,"height":292,"layer":[
     {"data":{"name":"ring"},"transform":[{"filter":"datum.az % 180 != 0"}],"mark":{"type":"arc","color":"#333","thetaOffset":-0.007,"theta2Offset":0.007},
      "encoding":{"x":{"datum":0,"type":"quantitative","scale":{"domain":[-1.2768,1.2717],"nice":false,"zero":false},"axis":null},"y":{"datum":0,"type":"quantitative","scale":{"domain":[-1.2354,1.2287],"nice":false,"zero":false},"axis":null},
       "theta":{"field":"az","type":"quantitative","scale":{"domain":[0,360],"range":[0,6.283185307]},"stack":null},"theta2":{"field":"az"},"radius":{"value":117.7},"radius2":{"value":119.3}}},
     {"data":{"name":"rose1"},"mark":{"type":"arc","color":"#000","stroke":"#000","strokeWidth":0.5},
      "encoding":{"x":{"datum":0,"type":"quantitative","scale":{"domain":[-1.2768,1.2717],"nice":false,"zero":false},"axis":null},"y":{"datum":0,"type":"quantitative","scale":{"domain":[-1.2354,1.2287],"nice":false,"zero":false},"axis":null},
       "theta":{"field":"az","type":"quantitative","scale":{"domain":[0,360],"range":[0,6.283185307]},"stack":null},"theta2":{"field":"az2"},"radius":{"field":"n","type":"quantitative","scale":{"type":"linear","domain":[0,30.3],"range":[0,118.5],"zero":true}}}},
     {"data":{"name":"rose1"},"mark":{"type":"arc","color":"#000","stroke":"#000","strokeWidth":0.5,"thetaOffset":3.141592654,"theta2Offset":3.141592654},
      "encoding":{"x":{"datum":0,"type":"quantitative","scale":{"domain":[-1.2768,1.2717],"nice":false,"zero":false},"axis":null},"y":{"datum":0,"type":"quantitative","scale":{"domain":[-1.2354,1.2287],"nice":false,"zero":false},"axis":null},
       "theta":{"field":"az","type":"quantitative","scale":{"domain":[0,360],"range":[0,6.283185307]},"stack":null},"theta2":{"field":"az2"},"radius":{"field":"n","type":"quantitative","scale":{"type":"linear","domain":[0,30.3],"range":[0,118.5],"zero":true}}}},
     {"data":{"name":"one"},"mark":{"type":"text","font":"Liberation Sans","fontWeight":"bold","fontSize":16,"align":"center","baseline":"middle","color":"#000"},
      "encoding":{"x":{"datum":0,"type":"quantitative","scale":{"domain":[-1.2768,1.2717],"nice":false,"zero":false},"axis":null},"y":{"datum":1.11,"type":"quantitative","scale":{"domain":[-1.2354,1.2287],"nice":false,"zero":false},"axis":null},"text":{"field":"label"}}}
   ]},
   {"width":302,"height":292,"layer":[
     {"data":{"name":"s1"},"transform":[{"filter":"datum.k=='e' && datum.l==1"}],"mark":{"type":"line","interpolate":"linear-closed","fill":"#f3f3f3","stroke":"#555","strokeWidth":0.8},
      "encoding":{"x":{"field":"x","type":"quantitative","scale":{"domain":[-1.2785,1.27],"nice":false,"zero":false},"axis":null},"y":{"field":"y","type":"quantitative","scale":{"domain":[-1.2405,1.2236],"nice":false,"zero":false},"axis":null},"detail":{"field":"id"},"order":{"value":null}}},
     {"data":{"name":"s1"},"transform":[{"filter":"datum.k=='b' && datum.l==1"}],"mark":{"type":"line","interpolate":"cardinal-closed","fill":"#f3f3f3","stroke":"#555","strokeWidth":0.8},
      "encoding":{"x":{"field":"x","type":"quantitative","scale":{"domain":[-1.2785,1.27],"nice":false,"zero":false},"axis":null},"y":{"field":"y","type":"quantitative","scale":{"domain":[-1.2405,1.2236],"nice":false,"zero":false},"axis":null},"detail":{"field":"id"},"order":{"value":null}}},
     {"data":{"name":"s1"},"transform":[{"filter":"datum.k=='e' && datum.l==2"}],"mark":{"type":"line","interpolate":"linear-closed","fill":"#e6e6e6","stroke":"#555","strokeWidth":0.8},
      "encoding":{"x":{"field":"x","type":"quantitative","scale":{"domain":[-1.2785,1.27],"nice":false,"zero":false},"axis":null},"y":{"field":"y","type":"quantitative","scale":{"domain":[-1.2405,1.2236],"nice":false,"zero":false},"axis":null},"detail":{"field":"id"},"order":{"value":null}}},
     {"data":{"name":"s1"},"transform":[{"filter":"datum.k=='e' && datum.l==3"}],"mark":{"type":"line","interpolate":"linear-closed","fill":"#d9d9d9","stroke":"#555","strokeWidth":0.8},
      "encoding":{"x":{"field":"x","type":"quantitative","scale":{"domain":[-1.2785,1.27],"nice":false,"zero":false},"axis":null},"y":{"field":"y","type":"quantitative","scale":{"domain":[-1.2405,1.2236],"nice":false,"zero":false},"axis":null},"detail":{"field":"id"},"order":{"value":null}}},
     {"data":{"name":"s1"},"transform":[{"filter":"datum.k=='e' && datum.l==4"}],"mark":{"type":"line","interpolate":"linear-closed","fill":"#cccccc","stroke":"#555","strokeWidth":0.8},
      "encoding":{"x":{"field":"x","type":"quantitative","scale":{"domain":[-1.2785,1.27],"nice":false,"zero":false},"axis":null},"y":{"field":"y","type":"quantitative","scale":{"domain":[-1.2405,1.2236],"nice":false,"zero":false},"axis":null},"detail":{"field":"id"},"order":{"value":null}}},
     {"data":{"name":"s1"},"transform":[{"filter":"datum.k=='e' && datum.l==5"}],"mark":{"type":"line","interpolate":"linear-closed","fill":"#b4b4b4","stroke":"#555","strokeWidth":0.8},
      "encoding":{"x":{"field":"x","type":"quantitative","scale":{"domain":[-1.2785,1.27],"nice":false,"zero":false},"axis":null},"y":{"field":"y","type":"quantitative","scale":{"domain":[-1.2405,1.2236],"nice":false,"zero":false},"axis":null},"detail":{"field":"id"},"order":{"value":null}}},
     {"data":{"name":"one"},"mark":{"type":"arc","filled":false,"stroke":"#555","strokeWidth":1},
      "encoding":{"x":{"datum":0,"type":"quantitative","scale":{"domain":[-1.2785,1.27],"nice":false,"zero":false},"axis":null},"y":{"datum":0,"type":"quantitative","scale":{"domain":[-1.2405,1.2236],"nice":false,"zero":false},"axis":null},"theta":{"value":0},"theta2":{"value":6.2832},"radius":{"value":118.5}}},
     {"data":{"name":"ticks"},"mark":{"type":"rule","stroke":"#555","strokeWidth":1},
      "encoding":{"x":{"field":"x","type":"quantitative","scale":{"domain":[-1.2785,1.27],"nice":false,"zero":false},"axis":null},"y":{"field":"y","type":"quantitative","scale":{"domain":[-1.2405,1.2236],"nice":false,"zero":false},"axis":null},"x2":{"field":"x2"},"y2":{"field":"y2"}}},
     {"data":{"name":"one"},"mark":{"type":"text","font":"Liberation Sans","fontWeight":"bold","fontSize":16,"align":"center","baseline":"middle","color":"#000"},
      "encoding":{"x":{"datum":0,"type":"quantitative","scale":{"domain":[-1.2785,1.27],"nice":false,"zero":false},"axis":null},"y":{"datum":1.105,"type":"quantitative","scale":{"domain":[-1.2405,1.2236],"nice":false,"zero":false},"axis":null},"text":{"field":"label"}}}
   ]}
  ]},
 {"title":{"text":"KFM07A, rock contacts, N=150","orient":"bottom","anchor":"start","font":"Liberation Serif","fontSize":26,"fontWeight":"normal","color":"#000","offset":36,"dx":0},
  "spacing":0,
  "hconcat":[
   {"width":302,"height":292,"layer":[
     {"data":{"name":"ring"},"transform":[{"filter":"datum.az % 180 != 0"}],"mark":{"type":"arc","color":"#333","thetaOffset":-0.007,"theta2Offset":0.007},
      "encoding":{"x":{"datum":0,"type":"quantitative","scale":{"domain":[-1.2785,1.27],"nice":false,"zero":false},"axis":null},"y":{"datum":0,"type":"quantitative","scale":{"domain":[-1.2321,1.2321],"nice":false,"zero":false},"axis":null},
       "theta":{"field":"az","type":"quantitative","scale":{"domain":[0,360],"range":[0,6.283185307]},"stack":null},"theta2":{"field":"az"},"radius":{"value":117.7},"radius2":{"value":119.3}}},
     {"data":{"name":"rose2"},"mark":{"type":"arc","color":"#000","stroke":"#000","strokeWidth":0.5},
      "encoding":{"x":{"datum":0,"type":"quantitative","scale":{"domain":[-1.2785,1.27],"nice":false,"zero":false},"axis":null},"y":{"datum":0,"type":"quantitative","scale":{"domain":[-1.2321,1.2321],"nice":false,"zero":false},"axis":null},
       "theta":{"field":"az","type":"quantitative","scale":{"domain":[0,360],"range":[0,6.283185307]},"stack":null},"theta2":{"field":"az2"},"radius":{"field":"n","type":"quantitative","scale":{"type":"linear","domain":[0,30],"range":[0,118.5],"zero":true}}}},
     {"data":{"name":"rose2"},"mark":{"type":"arc","color":"#000","stroke":"#000","strokeWidth":0.5,"thetaOffset":3.141592654,"theta2Offset":3.141592654},
      "encoding":{"x":{"datum":0,"type":"quantitative","scale":{"domain":[-1.2785,1.27],"nice":false,"zero":false},"axis":null},"y":{"datum":0,"type":"quantitative","scale":{"domain":[-1.2321,1.2321],"nice":false,"zero":false},"axis":null},
       "theta":{"field":"az","type":"quantitative","scale":{"domain":[0,360],"range":[0,6.283185307]},"stack":null},"theta2":{"field":"az2"},"radius":{"field":"n","type":"quantitative","scale":{"type":"linear","domain":[0,30],"range":[0,118.5],"zero":true}}}},
     {"data":{"name":"one"},"mark":{"type":"text","font":"Liberation Sans","fontWeight":"bold","fontSize":16,"align":"center","baseline":"middle","color":"#000"},
      "encoding":{"x":{"datum":0,"type":"quantitative","scale":{"domain":[-1.2785,1.27],"nice":false,"zero":false},"axis":null},"y":{"datum":1.105,"type":"quantitative","scale":{"domain":[-1.2321,1.2321],"nice":false,"zero":false},"axis":null},"text":{"field":"label"}}}
   ]},
   {"width":260,"height":292,"layer":[
     {"data":{"name":"one"},"mark":{"type":"arc","fill":"#ebebeb","clip":true},
      "encoding":{"x":{"datum":0,"type":"quantitative","scale":{"domain":[-1.2802,0.9139],"nice":false,"zero":false},"axis":null},"y":{"datum":0,"type":"quantitative","scale":{"domain":[-1.2262,1.238],"nice":false,"zero":false},"axis":null},"theta":{"value":0},"theta2":{"value":6.2832},"radius":{"value":118.5}}},
     {"data":{"name":"s2"},"transform":[{"filter":"datum.k=='e' && datum.l==0"}],"mark":{"type":"line","interpolate":"linear-closed","fill":"#ffffff","stroke":"#555","strokeWidth":0.8,"clip":true},
      "encoding":{"x":{"field":"x","type":"quantitative","scale":{"domain":[-1.2802,0.9139],"nice":false,"zero":false},"axis":null},"y":{"field":"y","type":"quantitative","scale":{"domain":[-1.2262,1.238],"nice":false,"zero":false},"axis":null},"detail":{"field":"id"},"order":{"value":null}}},
     {"data":{"name":"s2"},"transform":[{"filter":"datum.k=='b' && datum.l==1"}],"mark":{"type":"line","interpolate":"cardinal-closed","fill":"#ebebeb","stroke":"#555","strokeWidth":0.8,"clip":true},
      "encoding":{"x":{"field":"x","type":"quantitative","scale":{"domain":[-1.2802,0.9139],"nice":false,"zero":false},"axis":null},"y":{"field":"y","type":"quantitative","scale":{"domain":[-1.2262,1.238],"nice":false,"zero":false},"axis":null},"detail":{"field":"id"},"order":{"value":null}}},
     {"data":{"name":"s2"},"transform":[{"filter":"datum.k=='b' && datum.l==2"}],"mark":{"type":"line","interpolate":"cardinal-closed","fill":"#d2d2d2","stroke":"#555","strokeWidth":0.8,"clip":true},
      "encoding":{"x":{"field":"x","type":"quantitative","scale":{"domain":[-1.2802,0.9139],"nice":false,"zero":false},"axis":null},"y":{"field":"y","type":"quantitative","scale":{"domain":[-1.2262,1.238],"nice":false,"zero":false},"axis":null},"detail":{"field":"id"},"order":{"value":null}}},
     {"data":{"name":"s2"},"transform":[{"filter":"datum.k=='e' && datum.l==2"}],"mark":{"type":"line","interpolate":"linear-closed","fill":"#d2d2d2","stroke":"#555","strokeWidth":0.8,"clip":true},
      "encoding":{"x":{"field":"x","type":"quantitative","scale":{"domain":[-1.2802,0.9139],"nice":false,"zero":false},"axis":null},"y":{"field":"y","type":"quantitative","scale":{"domain":[-1.2262,1.238],"nice":false,"zero":false},"axis":null},"detail":{"field":"id"},"order":{"value":null}}},
     {"data":{"name":"s2"},"transform":[{"filter":"datum.k=='e' && datum.l==3"}],"mark":{"type":"line","interpolate":"linear-closed","fill":"#b5b5b5","stroke":"#555","strokeWidth":0.8,"clip":true},
      "encoding":{"x":{"field":"x","type":"quantitative","scale":{"domain":[-1.2802,0.9139],"nice":false,"zero":false},"axis":null},"y":{"field":"y","type":"quantitative","scale":{"domain":[-1.2262,1.238],"nice":false,"zero":false},"axis":null},"detail":{"field":"id"},"order":{"value":null}}},
     {"data":{"name":"s2"},"transform":[{"filter":"datum.k=='e' && datum.l==4"}],"mark":{"type":"line","interpolate":"linear-closed","fill":"#858585","stroke":"#444","strokeWidth":0.8,"clip":true},
      "encoding":{"x":{"field":"x","type":"quantitative","scale":{"domain":[-1.2802,0.9139],"nice":false,"zero":false},"axis":null},"y":{"field":"y","type":"quantitative","scale":{"domain":[-1.2262,1.238],"nice":false,"zero":false},"axis":null},"detail":{"field":"id"},"order":{"value":null}}},
     {"data":{"name":"one"},"mark":{"type":"arc","filled":false,"stroke":"#555","strokeWidth":1,"clip":true},
      "encoding":{"x":{"datum":0,"type":"quantitative","scale":{"domain":[-1.2802,0.9139],"nice":false,"zero":false},"axis":null},"y":{"datum":0,"type":"quantitative","scale":{"domain":[-1.2262,1.238],"nice":false,"zero":false},"axis":null},"theta":{"value":0},"theta2":{"value":6.2832},"radius":{"value":118.5}}},
     {"data":{"name":"ticks"},"mark":{"type":"rule","stroke":"#555","strokeWidth":1,"clip":true},
      "encoding":{"x":{"field":"x","type":"quantitative","scale":{"domain":[-1.2802,0.9139],"nice":false,"zero":false},"axis":null},"y":{"field":"y","type":"quantitative","scale":{"domain":[-1.2262,1.238],"nice":false,"zero":false},"axis":null},"x2":{"field":"x2"},"y2":{"field":"y2"}}},
     {"data":{"name":"one"},"mark":{"type":"text","font":"Liberation Sans","fontWeight":"bold","fontSize":16,"align":"center","baseline":"middle","color":"#000"},
      "encoding":{"x":{"datum":0,"type":"quantitative","scale":{"domain":[-1.2802,0.9139],"nice":false,"zero":false},"axis":null},"y":{"datum":1.11,"type":"quantitative","scale":{"domain":[-1.2262,1.238],"nice":false,"zero":false},"axis":null},"text":{"field":"label"}}}
   ]}
  ]}
]},
{"spacing":0,"hconcat":[
 {"title":{"text":"KFM07A, ductile shear zones, N=51","orient":"bottom","anchor":"start","font":"Liberation Serif","fontSize":26,"fontWeight":"normal","color":"#000","offset":-1,"dx":1},
  "spacing":0,
  "hconcat":[
   {"width":302,"height":280,"layer":[
     {"data":{"name":"ring"},"transform":[{"filter":"datum.az % 90 != 0 && datum.az % 90 != 10 && datum.az % 90 != 80"}],"mark":{"type":"arc","filled":false,"stroke":"#000","strokeWidth":0.8,"strokeDash":[1,3]},
      "encoding":{"x":{"datum":0,"type":"quantitative","scale":{"domain":[-1.2906,1.2906],"nice":false,"zero":false},"axis":null},"y":{"datum":0,"type":"quantitative","scale":{"domain":[-1.1769,1.2162],"nice":false,"zero":false},"axis":null},
       "theta":{"field":"az","type":"quantitative","scale":{"domain":[0,360],"range":[0,6.283185307]},"stack":null},"theta2":{"field":"az"},"radius":{"value":117},"radius2":{"value":8.5}}},
     {"data":{"name":"ring"},"transform":[{"filter":"datum.az % 90 == 10 || datum.az % 90 == 80"}],"mark":{"type":"arc","filled":false,"stroke":"#000","strokeWidth":0.8,"strokeDash":[5,3]},
      "encoding":{"x":{"datum":0,"type":"quantitative","scale":{"domain":[-1.2906,1.2906],"nice":false,"zero":false},"axis":null},"y":{"datum":0,"type":"quantitative","scale":{"domain":[-1.1769,1.2162],"nice":false,"zero":false},"axis":null},
       "theta":{"field":"az","type":"quantitative","scale":{"domain":[0,360],"range":[0,6.283185307]},"stack":null},"theta2":{"field":"az"},"radius":{"value":117},"radius2":{"value":10.5}}},
     {"data":{"name":"one"},"mark":{"type":"arc","filled":false,"stroke":"#000","strokeWidth":1,"strokeDash":[6,2,1,2]},
      "encoding":{"x":{"datum":0,"type":"quantitative","scale":{"domain":[-1.2906,1.2906],"nice":false,"zero":false},"axis":null},"y":{"datum":0,"type":"quantitative","scale":{"domain":[-1.1769,1.2162],"nice":false,"zero":false},"axis":null},"theta":{"value":0},"theta2":{"value":6.2832},"radius":{"value":117}}},
     {"data":{"name":"rose3"},"mark":{"type":"arc","color":"#000","stroke":"#000","strokeWidth":0.5},
      "encoding":{"x":{"datum":0,"type":"quantitative","scale":{"domain":[-1.2906,1.2906],"nice":false,"zero":false},"axis":null},"y":{"datum":0,"type":"quantitative","scale":{"domain":[-1.1769,1.2162],"nice":false,"zero":false},"axis":null},
       "theta":{"field":"az","type":"quantitative","scale":{"domain":[0,360],"range":[0,6.283185307]},"stack":null},"theta2":{"field":"az2"},"radius":{"field":"n","type":"quantitative","scale":{"type":"linear","domain":[0,20.4],"range":[0,117],"zero":true}}}},
     {"data":{"name":"rose3"},"mark":{"type":"arc","color":"#000","stroke":"#000","strokeWidth":0.5,"thetaOffset":3.141592654,"theta2Offset":3.141592654},
      "encoding":{"x":{"datum":0,"type":"quantitative","scale":{"domain":[-1.2906,1.2906],"nice":false,"zero":false},"axis":null},"y":{"datum":0,"type":"quantitative","scale":{"domain":[-1.1769,1.2162],"nice":false,"zero":false},"axis":null},
       "theta":{"field":"az","type":"quantitative","scale":{"domain":[0,360],"range":[0,6.283185307]},"stack":null},"theta2":{"field":"az2"},"radius":{"field":"n","type":"quantitative","scale":{"type":"linear","domain":[0,20.4],"range":[0,117],"zero":true}}}},
     {"data":{"name":"one"},"mark":{"type":"text","font":"Liberation Sans","fontWeight":"bold","fontSize":16,"align":"center","baseline":"middle","color":"#000"},
      "encoding":{"x":{"datum":0,"type":"quantitative","scale":{"domain":[-1.2906,1.2906],"nice":false,"zero":false},"axis":null},"y":{"datum":1.097,"type":"quantitative","scale":{"domain":[-1.1769,1.2162],"nice":false,"zero":false},"axis":null},"text":{"field":"label"}}}
   ]},
   {"width":302,"height":280,"layer":[
     {"data":{"name":"s3"},"transform":[{"filter":"datum.k=='b' && datum.l==1"}],"mark":{"type":"line","interpolate":"cardinal-closed","fill":"#f3f3f3","stroke":"#555","strokeWidth":0.8},
      "encoding":{"x":{"field":"x","type":"quantitative","scale":{"domain":[-1.3129,1.2905],"nice":false,"zero":false},"axis":null},"y":{"field":"y","type":"quantitative","scale":{"domain":[-1.1931,1.2207],"nice":false,"zero":false},"axis":null},"detail":{"field":"id"},"order":{"value":null}}},
     {"data":{"name":"s3"},"transform":[{"filter":"datum.k=='b' && datum.l==2"}],"mark":{"type":"line","interpolate":"cardinal-closed","fill":"#e0e0e0","stroke":"#555","strokeWidth":0.8},
      "encoding":{"x":{"field":"x","type":"quantitative","scale":{"domain":[-1.3129,1.2905],"nice":false,"zero":false},"axis":null},"y":{"field":"y","type":"quantitative","scale":{"domain":[-1.1931,1.2207],"nice":false,"zero":false},"axis":null},"detail":{"field":"id"},"order":{"value":null}}},
     {"data":{"name":"s3"},"transform":[{"filter":"datum.k=='e' && datum.l==1"}],"mark":{"type":"line","interpolate":"linear-closed","fill":"#f3f3f3","stroke":"#555","strokeWidth":0.8},
      "encoding":{"x":{"field":"x","type":"quantitative","scale":{"domain":[-1.3129,1.2905],"nice":false,"zero":false},"axis":null},"y":{"field":"y","type":"quantitative","scale":{"domain":[-1.1931,1.2207],"nice":false,"zero":false},"axis":null},"detail":{"field":"id"},"order":{"value":null}}},
     {"data":{"name":"s3"},"transform":[{"filter":"datum.k=='e' && datum.l==2"}],"mark":{"type":"line","interpolate":"linear-closed","fill":"#e6e6e6","stroke":"#555","strokeWidth":0.8},
      "encoding":{"x":{"field":"x","type":"quantitative","scale":{"domain":[-1.3129,1.2905],"nice":false,"zero":false},"axis":null},"y":{"field":"y","type":"quantitative","scale":{"domain":[-1.1931,1.2207],"nice":false,"zero":false},"axis":null},"detail":{"field":"id"},"order":{"value":null}}},
     {"data":{"name":"s3"},"transform":[{"filter":"datum.k=='e' && datum.l==3"}],"mark":{"type":"line","interpolate":"linear-closed","fill":"#d9d9d9","stroke":"#555","strokeWidth":0.8},
      "encoding":{"x":{"field":"x","type":"quantitative","scale":{"domain":[-1.3129,1.2905],"nice":false,"zero":false},"axis":null},"y":{"field":"y","type":"quantitative","scale":{"domain":[-1.1931,1.2207],"nice":false,"zero":false},"axis":null},"detail":{"field":"id"},"order":{"value":null}}},
     {"data":{"name":"s3"},"transform":[{"filter":"datum.k=='e' && datum.l==4"}],"mark":{"type":"line","interpolate":"linear-closed","fill":"#cccccc","stroke":"#555","strokeWidth":0.8},
      "encoding":{"x":{"field":"x","type":"quantitative","scale":{"domain":[-1.3129,1.2905],"nice":false,"zero":false},"axis":null},"y":{"field":"y","type":"quantitative","scale":{"domain":[-1.1931,1.2207],"nice":false,"zero":false},"axis":null},"detail":{"field":"id"},"order":{"value":null}}},
     {"data":{"name":"s3"},"transform":[{"filter":"datum.k=='e' && datum.l==5"}],"mark":{"type":"line","interpolate":"linear-closed","fill":"#b4b4b4","stroke":"#555","strokeWidth":0.8},
      "encoding":{"x":{"field":"x","type":"quantitative","scale":{"domain":[-1.3129,1.2905],"nice":false,"zero":false},"axis":null},"y":{"field":"y","type":"quantitative","scale":{"domain":[-1.1931,1.2207],"nice":false,"zero":false},"axis":null},"detail":{"field":"id"},"order":{"value":null}}},
     {"data":{"name":"one"},"mark":{"type":"arc","filled":false,"stroke":"#555","strokeWidth":1},
      "encoding":{"x":{"datum":0,"type":"quantitative","scale":{"domain":[-1.3129,1.2905],"nice":false,"zero":false},"axis":null},"y":{"datum":0,"type":"quantitative","scale":{"domain":[-1.1931,1.2207],"nice":false,"zero":false},"axis":null},"theta":{"value":0},"theta2":{"value":6.2832},"radius":{"value":116}}},
     {"data":{"name":"ticks"},"mark":{"type":"rule","stroke":"#555","strokeWidth":1},
      "encoding":{"x":{"field":"x","type":"quantitative","scale":{"domain":[-1.3129,1.2905],"nice":false,"zero":false},"axis":null},"y":{"field":"y","type":"quantitative","scale":{"domain":[-1.1931,1.2207],"nice":false,"zero":false},"axis":null},"x2":{"field":"x2"},"y2":{"field":"y2"}}},
     {"data":{"name":"one"},"mark":{"type":"text","font":"Liberation Sans","fontWeight":"bold","fontSize":16,"align":"center","baseline":"middle","color":"#000"},
      "encoding":{"x":{"datum":0,"type":"quantitative","scale":{"domain":[-1.3129,1.2905],"nice":false,"zero":false},"axis":null},"y":{"datum":1.109,"type":"quantitative","scale":{"domain":[-1.1931,1.2207],"nice":false,"zero":false},"axis":null},"text":{"field":"label"}}}
   ]}
  ]},
 {"title":{"text":"KFM07A, brittle-ductile shear zones, N=11","orient":"bottom","anchor":"start","font":"Liberation Serif","fontSize":26,"fontWeight":"normal","color":"#000","offset":-1,"dx":0},
  "spacing":0,
  "hconcat":[
   {"width":302,"height":280,"layer":[
     {"data":{"name":"ring"},"mark":{"type":"arc","color":"#333","thetaOffset":-0.007,"theta2Offset":0.007},
      "encoding":{"x":{"datum":0,"type":"quantitative","scale":{"domain":[-1.2795,1.2626],"nice":false,"zero":false},"axis":null},"y":{"datum":0,"type":"quantitative","scale":{"domain":[-1.1953,1.1616],"nice":false,"zero":false},"axis":null},
       "theta":{"field":"az","type":"quantitative","scale":{"domain":[0,360],"range":[0,6.283185307]},"stack":null},"theta2":{"field":"az"},"radius":{"value":118},"radius2":{"value":119.6}}},
     {"data":{"name":"rose4"},"mark":{"type":"arc","color":"#000","stroke":"#000","strokeWidth":0.5},
      "encoding":{"x":{"datum":0,"type":"quantitative","scale":{"domain":[-1.2795,1.2626],"nice":false,"zero":false},"axis":null},"y":{"datum":0,"type":"quantitative","scale":{"domain":[-1.1953,1.1616],"nice":false,"zero":false},"axis":null},
       "theta":{"field":"az","type":"quantitative","scale":{"domain":[0,360],"range":[0,6.283185307]},"stack":null},"theta2":{"field":"az2"},"radius":{"field":"n","type":"quantitative","scale":{"type":"linear","domain":[0,4.4],"range":[0,118.8],"zero":true}}}},
     {"data":{"name":"rose4"},"mark":{"type":"arc","color":"#000","stroke":"#000","strokeWidth":0.5,"thetaOffset":3.141592654,"theta2Offset":3.141592654},
      "encoding":{"x":{"datum":0,"type":"quantitative","scale":{"domain":[-1.2795,1.2626],"nice":false,"zero":false},"axis":null},"y":{"datum":0,"type":"quantitative","scale":{"domain":[-1.1953,1.1616],"nice":false,"zero":false},"axis":null},
       "theta":{"field":"az","type":"quantitative","scale":{"domain":[0,360],"range":[0,6.283185307]},"stack":null},"theta2":{"field":"az2"},"radius":{"field":"n","type":"quantitative","scale":{"type":"linear","domain":[0,4.4],"range":[0,118.8],"zero":true}}}},
     {"data":{"name":"one"},"mark":{"type":"text","font":"Liberation Sans","fontWeight":"bold","fontSize":16,"align":"center","baseline":"middle","color":"#000"},
      "encoding":{"x":{"datum":0,"type":"quantitative","scale":{"domain":[-1.2795,1.2626],"nice":false,"zero":false},"axis":null},"y":{"datum":1.10,"type":"quantitative","scale":{"domain":[-1.1953,1.1616],"nice":false,"zero":false},"axis":null},"text":{"field":"label"}}}
   ]},
   {"width":260,"height":280,"layer":[
     {"data":{"name":"s4net"},"mark":{"type":"circle","size":4,"color":"#444","opacity":1},
      "encoding":{"x":{"field":"x","type":"quantitative","scale":{"domain":[-1.2937,0.9004],"nice":false,"zero":false},"axis":null},"y":{"field":"y","type":"quantitative","scale":{"domain":[-1.1983,1.1646],"nice":false,"zero":false},"axis":null}}},
     {"data":{"name":"s4"},"mark":{"type":"circle","size":4,"color":"#444","opacity":1},
      "encoding":{"x":{"field":"x","type":"quantitative","scale":{"domain":[-1.2937,0.9004],"nice":false,"zero":false},"axis":null},"y":{"field":"y","type":"quantitative","scale":{"domain":[-1.1983,1.1646],"nice":false,"zero":false},"axis":null}}},
     {"data":{"name":"one"},"mark":{"type":"text","font":"Liberation Sans","fontWeight":"bold","fontSize":16,"align":"center","baseline":"middle","color":"#000"},
      "encoding":{"x":{"datum":0,"type":"quantitative","scale":{"domain":[-1.2937,0.9004],"nice":false,"zero":false},"axis":null},"y":{"datum":1.103,"type":"quantitative","scale":{"domain":[-1.1983,1.1646],"nice":false,"zero":false},"axis":null},"text":{"field":"label"}}}
   ]}
  ]}
]}
]
}
